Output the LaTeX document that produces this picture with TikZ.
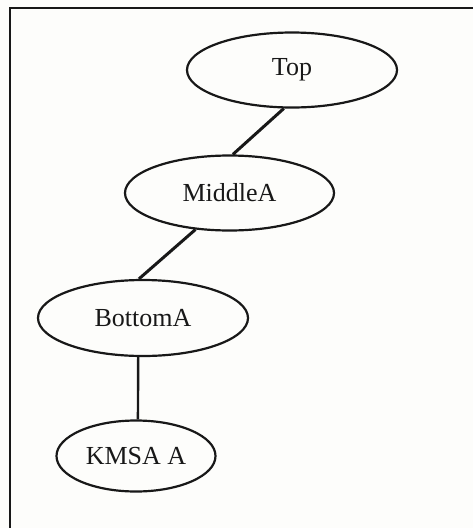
\documentclass[tikz,border=0pt]{standalone}
\usepackage{fontspec}
\setmainfont{Liberation Serif}
\usetikzlibrary{shapes.geometric}
\definecolor{paper}{RGB}{253,253,251}
\definecolor{ink}{RGB}{24,24,24}
\begin{document}
\begin{tikzpicture}[x=1pt,y=-1pt,
  state/.style={ellipse,draw=ink,line width=2.2pt,inner sep=0pt,
    font=\fontsize{26}{30}\selectfont,text=ink},
  link/.style={draw=ink,line width=3pt}]
  % page and frame
  \fill[paper] (0,0) rectangle (473,528);
  \useasboundingbox (0,0) rectangle (473,528);
  \draw[ink,line width=2.8pt] (10,528) -- (10,8) -- (473,8);

  % hierarchy nodes
  \node[state,minimum width=210pt,minimum height=75pt] (top) at (292,70) {Top};
  \node[state,minimum width=209pt,minimum height=75pt] (mida) at (229.5,193) {MiddleA};
  \node[state,minimum width=210pt,minimum height=76pt] (bota) at (143,318) {BottomA};
  \node[state,minimum width=159pt,minimum height=71pt] (kmsa) at (136,456) {KMSA A};

  % connections
  \draw[link] (top.258) -- (mida.85);
  \draw[link] (mida.227) -- (bota.96);
  \draw[link,line width=2.4pt] (bota.263) -- (kmsa.87);
\end{tikzpicture}
\end{document}
